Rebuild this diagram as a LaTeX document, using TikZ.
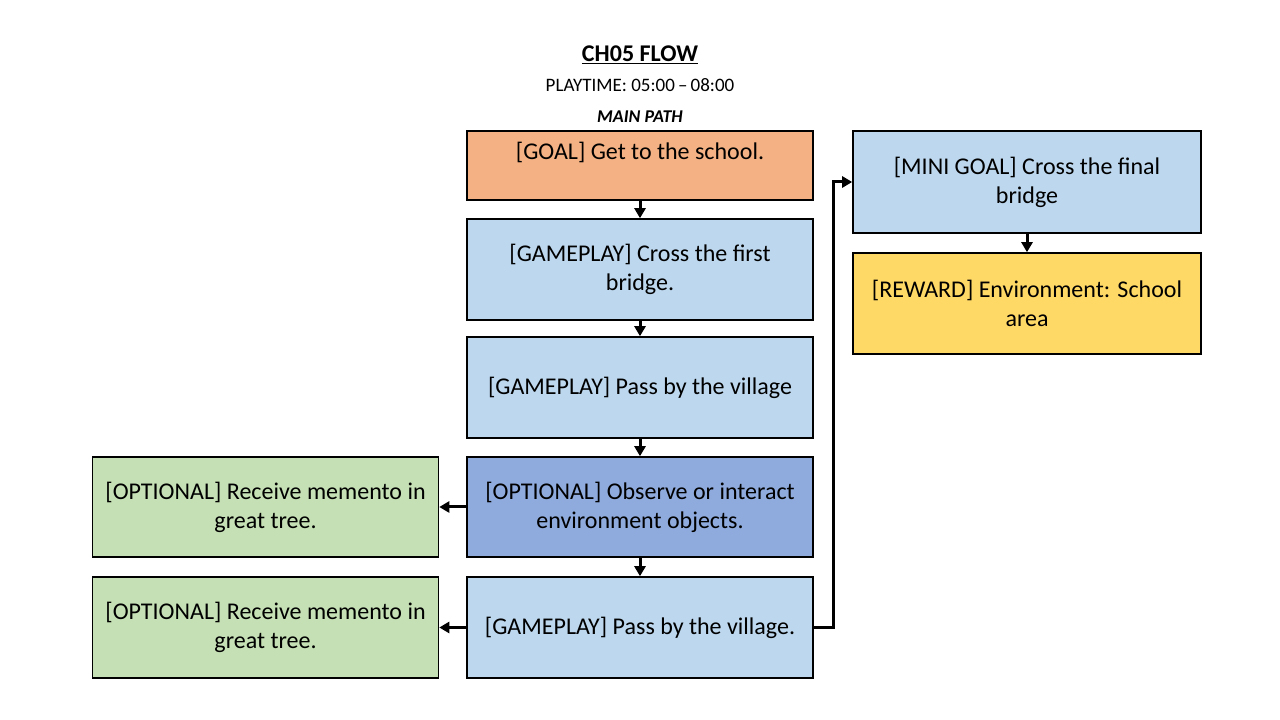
\documentclass[tikz,border=0pt]{standalone}
\usepackage{fontspec}
\setmainfont{Carlito}
\usetikzlibrary{arrows.meta}
\definecolor{goalc}{HTML}{F4B183}
\definecolor{playc}{HTML}{BDD7EE}
\definecolor{optc}{HTML}{8FAADC}
\definecolor{sidec}{HTML}{C5E0B4}
\definecolor{rewc}{HTML}{FFD966}
\tikzset{
  box/.style={draw=black, line width=1.6pt, minimum width=346pt, minimum height=101pt,
    align=center, font=\fontsize{24}{29}\selectfont, inner sep=0pt},
  conn/.style={line width=3pt, -{Triangle[length=10pt,width=11pt]}}
}
\begin{document}
\begin{tikzpicture}[x=1pt,y=1pt]
\useasboundingbox (0,0) rectangle (1280,720);
% heading
\node (title) at (640,665) {\fontsize{24}{28}\selectfont\bfseries\underline{CH05 FLOW}};
\node (time) at (640,635) {\fontsize{19}{22}\selectfont PLAYTIME: 05:00\,–\,08:00};
\node (mainpath) at (640,603) {\fontsize{18}{21}\selectfont\bfseries\itshape MAIN PATH};
% main path
\node[box, fill=goalc, minimum height=69pt] (goal) at (640,554.5) {[GOAL] Get to the school.\\\mbox{}};
\node[box, fill=playc] (bridge1) at (640,450.5) {[GAMEPLAY] Cross the first\\bridge.};
\node[box, fill=playc] (village1) at (640,332.5) {[GAMEPLAY] Pass by the village};
\node[box, fill=optc, minimum height=100pt] (observe) at (640,213) {[OPTIONAL] Observe or interact\\environment objects.};
\node[box, fill=playc] (village2) at (640,92.5) {[GAMEPLAY] Pass by the village.};
% side branches
\node[box, fill=sidec, minimum height=100pt] (memento1) at (265.5,213) {[OPTIONAL] Receive memento in\\great tree.};
\node[box, fill=sidec] (memento2) at (265.5,92.5) {[OPTIONAL] Receive memento in\\great tree.};
% final stretch
\node[box, fill=playc, minimum width=348pt, minimum height=102pt] (bridge2) at (1027,538) {[MINI GOAL] Cross the final\\bridge};
\node[box, fill=rewc, minimum width=348pt] (reward) at (1027,416.5) {[REWARD] Environment: School\\area};
% connectors
\draw[conn] (goal) -- (bridge1);
\draw[conn] (bridge1) -- (village1);
\draw[conn] (village1) -- (observe);
\draw[conn] (observe) -- (village2);
\draw[conn] (observe) -- (memento1);
\draw[conn] (village2) -- (memento2);
\draw[conn] (village2.east) -- ++(20,0) |- (bridge2.west);
\draw[conn] (bridge2) -- (reward);
\end{tikzpicture}
\end{document}
